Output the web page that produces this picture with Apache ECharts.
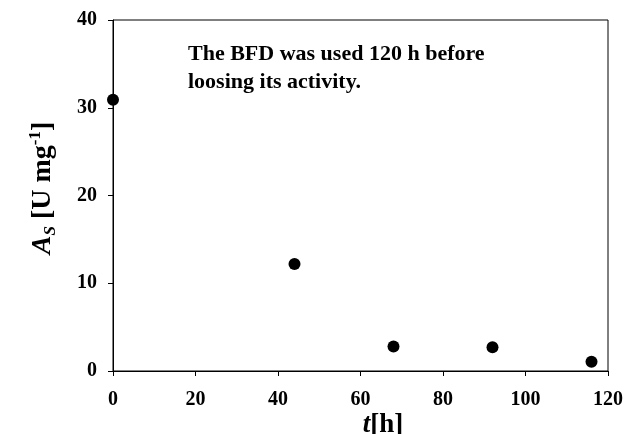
<!DOCTYPE html>
<html>
<head>
<meta charset="utf-8">
<script src="https://cdn.jsdelivr.net/npm/echarts@6/dist/echarts.min.js"></script>
<style>html,body{margin:0;padding:0;background:#fff;}#c{width:627px;height:434px;}</style>
</head>
<body>
<div id="c"></div>
<script>
var timeH = [0, 44, 68, 92, 116];
var activity = [30.9, 12.2, 2.8, 2.7, 1.05];
var xTicks = [0, 20, 40, 60, 80, 100, 120];
var yTicks = [0, 10, 20, 30, 40];
var noteLines = ['The BFD was used 120 h before', 'loosing its activity.'];

var FONT = '"Liberation Serif","Times New Roman",serif';
var chart = echarts.init(document.getElementById('c'), null, {renderer: 'canvas'});
var pts = timeH.map(function (t, i) { return [t, activity[i]]; });

chart.setOption({
  backgroundColor: '#fff',
  animation: false,
  grid: {left: 113, right: 19, top: 20, bottom: 63, show: true, borderColor: '#000', borderWidth: 1, backgroundColor: 'transparent'},
  xAxis: {
    type: 'value', min: xTicks[0], max: xTicks[xTicks.length - 1], interval: 20,
    axisLine: {onZero: false, lineStyle: {color: '#000', width: 1}},
    axisTick: {show: true, inside: false, length: 5, lineStyle: {color: '#000'}},
    splitLine: {show: false},
    axisLabel: {color: '#000', fontFamily: FONT, fontWeight: 'bold', fontSize: 20, margin: 19}
  },
  yAxis: {
    type: 'value', min: yTicks[0], max: yTicks[yTicks.length - 1], interval: 10,
    axisLine: {onZero: false, lineStyle: {color: '#000', width: 1}},
    axisTick: {show: true, inside: false, length: 5, lineStyle: {color: '#000'}},
    splitLine: {show: false},
    axisLabel: {color: '#000', fontFamily: FONT, fontWeight: 'bold', fontSize: 20, margin: 16}
  },
  graphic: [
    {
      type: 'text', left: 188, top: 40,
      style: {text: noteLines.join('\n'), fill: '#000', font: 'bold 22px ' + FONT, lineHeight: 28}
    },
    {
      type: 'text', x: 383, y: 425,
      style: {
        text: '{i|t}{n|[h]}',
        align: 'center', verticalAlign: 'middle',
        rich: {
          i: {fontFamily: FONT, fontWeight: 'bold', fontStyle: 'italic', fontSize: 27, fill: '#000'},
          n: {fontFamily: FONT, fontWeight: 'bold', fontSize: 27, fill: '#000'}
        }
      }
    },
    {
      type: 'text', x: 43, y: 188, rotation: Math.PI / 2,
      style: {
        text: '{i|A}{sub|S}{n| [U mg}{sup|-1}{n|]}',
        align: 'center', verticalAlign: 'middle',
        rich: {
          i: {fontFamily: FONT, fontWeight: 'bold', fontStyle: 'italic', fontSize: 28, fill: '#000', lineHeight: 32, verticalAlign: 'middle'},
          n: {fontFamily: FONT, fontWeight: 'bold', fontSize: 28, fill: '#000', lineHeight: 32, verticalAlign: 'middle'},
          sub: {fontFamily: FONT, fontWeight: 'bold', fontStyle: 'italic', fontSize: 17, fill: '#000', lineHeight: 17, verticalAlign: 'bottom'},
          sup: {fontFamily: FONT, fontWeight: 'bold', fontSize: 17, fill: '#000', lineHeight: 17, verticalAlign: 'top'}
        }
      }
    }
  ],
  series: [{
    type: 'scatter', data: pts, symbol: 'circle', symbolSize: 12,
    itemStyle: {color: '#000', opacity: 1}
  }]
});
</script>
</body>
</html>
